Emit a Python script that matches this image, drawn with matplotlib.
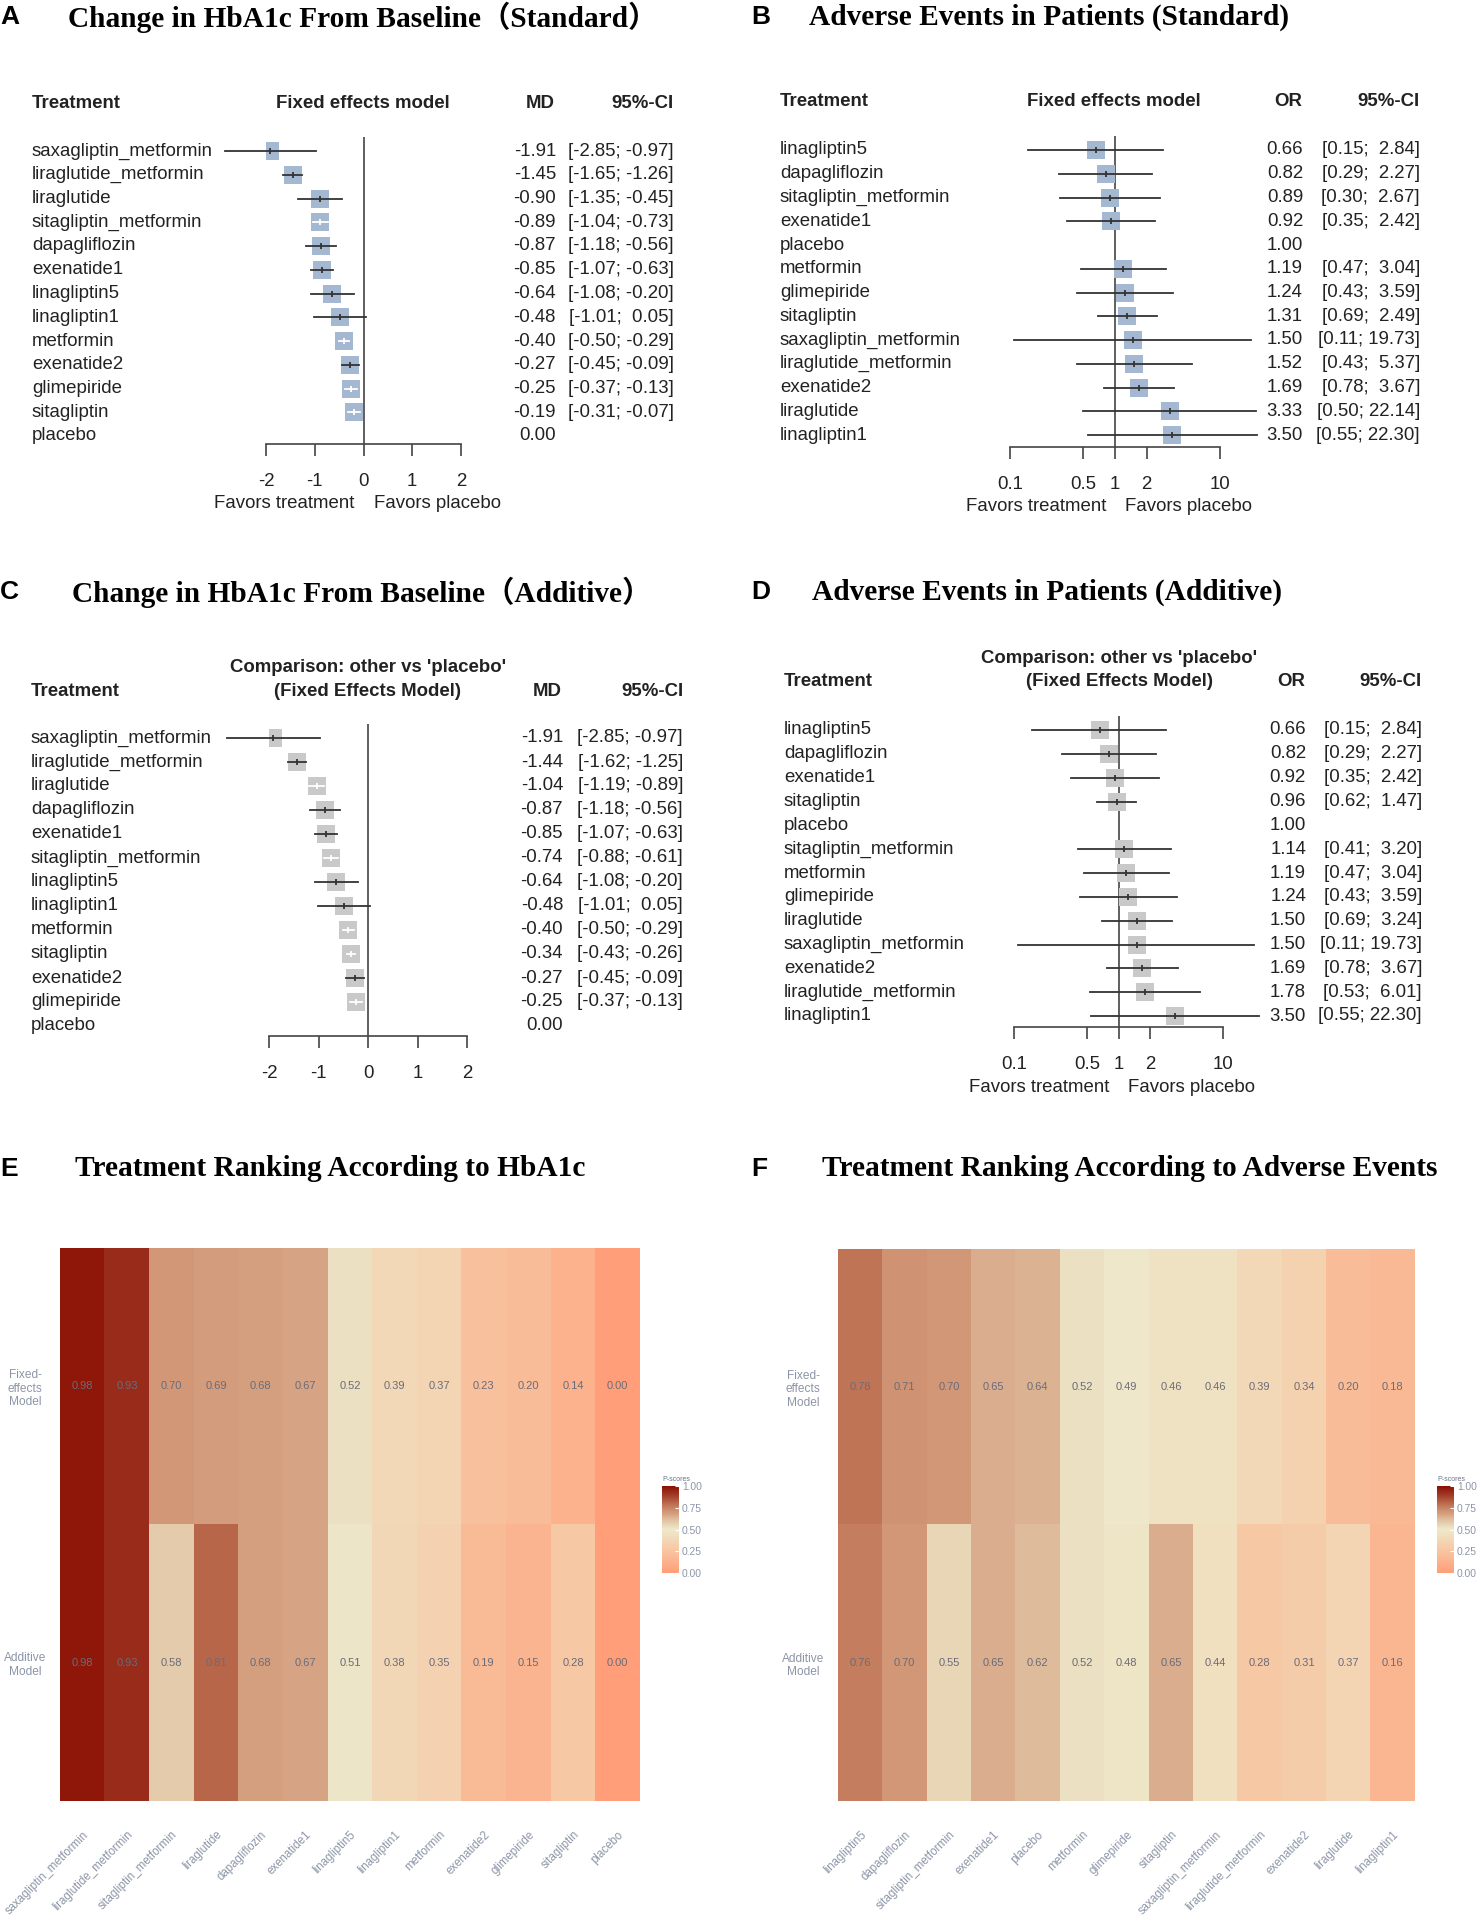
# plot.py
"""
Figura con seis paneles: cuatro forest plots (HbA1c y eventos adversos,
modelo estandar y aditivo) y dos mapas de calor con los P-scores.
"""
import numpy as np
import matplotlib
matplotlib.use('Agg')
import matplotlib.pyplot as plt
from matplotlib.colors import LinearSegmentedColormap

plt.rcParams['font.family'] = ['Liberation Sans', 'DejaVu Sans']

# Tamaño de la figura en pixeles
W, H = 1477, 1923
nan = np.nan

# Panel A: cambio en HbA1c (estandar)
a_trat = ['saxagliptin_metformin', 'liraglutide_metformin', 'liraglutide',
          'sitagliptin_metformin', 'dapagliflozin', 'exenatide1', 'linagliptin5',
          'linagliptin1', 'metformin', 'exenatide2', 'glimepiride', 'sitagliptin',
          'placebo']
a_md = [-1.91, -1.45, -0.90, -0.89, -0.87, -0.85, -0.64, -0.48, -0.40, -0.27, -0.25, -0.19, 0.00]
a_lo = [-2.85, -1.65, -1.35, -1.04, -1.18, -1.07, -1.08, -1.01, -0.50, -0.45, -0.37, -0.31, nan]
a_hi = [-0.97, -1.26, -0.45, -0.73, -0.56, -0.63, -0.20, 0.05, -0.29, -0.09, -0.13, -0.07, nan]

# Panel B: eventos adversos (estandar)
b_trat = ['linagliptin5', 'dapagliflozin', 'sitagliptin_metformin', 'exenatide1',
          'placebo', 'metformin', 'glimepiride', 'sitagliptin', 'saxagliptin_metformin',
          'liraglutide_metformin', 'exenatide2', 'liraglutide', 'linagliptin1']
b_or = [0.66, 0.82, 0.89, 0.92, 1.00, 1.19, 1.24, 1.31, 1.50, 1.52, 1.69, 3.33, 3.50]
b_lo = [0.15, 0.29, 0.30, 0.35, nan, 0.47, 0.43, 0.69, 0.11, 0.43, 0.78, 0.50, 0.55]
b_hi = [2.84, 2.27, 2.67, 2.42, nan, 3.04, 3.59, 2.49, 19.73, 5.37, 3.67, 22.14, 22.30]

# Panel C: cambio en HbA1c (aditivo)
c_trat = ['saxagliptin_metformin', 'liraglutide_metformin', 'liraglutide',
          'dapagliflozin', 'exenatide1', 'sitagliptin_metformin', 'linagliptin5',
          'linagliptin1', 'metformin', 'sitagliptin', 'exenatide2', 'glimepiride',
          'placebo']
c_md = [-1.91, -1.44, -1.04, -0.87, -0.85, -0.74, -0.64, -0.48, -0.40, -0.34, -0.27, -0.25, 0.00]
c_lo = [-2.85, -1.62, -1.19, -1.18, -1.07, -0.88, -1.08, -1.01, -0.50, -0.43, -0.45, -0.37, nan]
c_hi = [-0.97, -1.25, -0.89, -0.56, -0.63, -0.61, -0.20, 0.05, -0.29, -0.26, -0.09, -0.13, nan]

# Panel D: eventos adversos (aditivo)
d_trat = ['linagliptin5', 'dapagliflozin', 'exenatide1', 'sitagliptin', 'placebo',
          'sitagliptin_metformin', 'metformin', 'glimepiride', 'liraglutide',
          'saxagliptin_metformin', 'exenatide2', 'liraglutide_metformin', 'linagliptin1']
d_or = [0.66, 0.82, 0.92, 0.96, 1.00, 1.14, 1.19, 1.24, 1.50, 1.50, 1.69, 1.78, 3.50]
d_lo = [0.15, 0.29, 0.35, 0.62, nan, 0.41, 0.47, 0.43, 0.69, 0.11, 0.78, 0.53, 0.55]
d_hi = [2.84, 2.27, 2.42, 1.47, nan, 3.20, 3.04, 3.59, 3.24, 19.73, 3.67, 6.01, 22.30]

# Panel E: ranking segun HbA1c (P-scores)
e_trat = ['saxagliptin_metformin', 'liraglutide_metformin', 'sitagliptin_metformin',
          'liraglutide', 'dapagliflozin', 'exenatide1', 'linagliptin5', 'linagliptin1',
          'metformin', 'exenatide2', 'glimepiride', 'sitagliptin', 'placebo']
e_fijo = [0.98, 0.93, 0.70, 0.69, 0.68, 0.67, 0.52, 0.39, 0.37, 0.23, 0.20, 0.14, 0.00]
e_aditivo = [0.98, 0.93, 0.58, 0.81, 0.68, 0.67, 0.51, 0.38, 0.35, 0.19, 0.15, 0.28, 0.00]

# Panel F: ranking segun eventos adversos (P-scores)
f_trat = ['linagliptin5', 'dapagliflozin', 'sitagliptin_metformin', 'exenatide1',
          'placebo', 'metformin', 'glimepiride', 'sitagliptin', 'saxagliptin_metformin',
          'liraglutide_metformin', 'exenatide2', 'liraglutide', 'linagliptin1']
f_fijo = [0.78, 0.71, 0.70, 0.65, 0.64, 0.52, 0.49, 0.46, 0.46, 0.39, 0.34, 0.20, 0.18]
f_aditivo = [0.76, 0.70, 0.55, 0.65, 0.62, 0.52, 0.48, 0.65, 0.44, 0.28, 0.31, 0.37, 0.16]

fila_labels = ['Fixed-\neffects\nModel', 'Additive\nModel']

TXT = '#222222'
GRIS = '#8C95A7'
TAM = 13.4

fig = plt.figure(figsize=(W / 100, H / 100), dpi=100)


def caja(l, t, r, b):
    """Rectangulo en pixeles (izq, arriba, der, abajo) -> coordenadas de figura."""
    return [l / W, 1 - b / H, (r - l) / W, (b - t) / H]


def texto(x, y, s, **kw):
    """Texto en coordenadas de pixel de la figura."""
    kw.setdefault('color', TXT)
    kw.setdefault('va', 'center')
    fig.text(x / W, 1 - y / H, s, **kw)


def titulo(letra, lx, tx_, y, s):
    texto(lx, y, letra, fontsize=19, fontweight='bold', color='black')
    texto(tx_, y, s, fontsize=21.2, fontweight='bold', color='black',
          family=['Liberation Serif', 'Noto Sans CJK SC', 'DejaVu Serif'])


def forest(trat, est, lo, hi, lay, log=False, color='#A4B8D1', medida='MD'):
    """Dibuja un forest plot al estilo de netmeta."""
    ref_top = lay['row0'] - 14
    ax = fig.add_axes(caja(lay['x0'], ref_top, lay['x1'], lay['axis_y']))
    r0 = lay['row0']
    dy = (lay['rowN'] - r0) / (len(trat) - 1)
    ax.set_ylim((lay['axis_y'] - r0) / dy, (ref_top - r0) / dy)
    if log:
        ax.set_xscale('log')
        ax.set_xlim(0.1, 10)
        ticks, ref, escala = [0.1, 0.5, 1, 2, 10], 1, (lay['x1'] - lay['x0']) / 2
    else:
        ax.set_xlim(-2, 2)
        ticks, ref, escala = [-2, -1, 0, 1, 2], 0, (lay['x1'] - lay['x0']) / 4
    ax.set_xticks(ticks)
    ax.set_xticklabels([('%g' % t) for t in ticks])
    ax.minorticks_off()
    ax.set_yticks([])
    ax.axvline(ref, color='#444444', lw=1.2, zorder=1)
    for lado in ['top', 'right', 'left']:
        ax.spines[lado].set_visible(False)
    ax.spines['bottom'].set_color('#444444')
    ax.spines['bottom'].set_linewidth(1.2)
    ax.tick_params(axis='x', direction='out', length=8.5, width=1.2, color='#444444',
                   pad=12.5, labelsize=TAM, labelcolor=TXT)
    ax.patch.set_alpha(0)

    # Cabeceras
    texto(lay['lab_x'], lay['hdr_y'], 'Treatment', fontsize=TAM, fontweight='bold')
    if lay.get('hdr1_y'):
        texto(lay['hdr_cx'], lay['hdr1_y'], "Comparison: other vs 'placebo'",
              fontsize=TAM, fontweight='bold', ha='center')
        texto(lay['hdr_cx'], lay['hdr_y'], '(Fixed Effects Model)',
              fontsize=TAM, fontweight='bold', ha='center')
    else:
        texto(lay['hdr_cx'], lay['hdr_y'], 'Fixed effects model',
              fontsize=TAM, fontweight='bold', ha='center')
    texto(lay['val_cx'], lay['hdr_y'], medida, fontsize=TAM, fontweight='bold', ha='center')
    texto(lay['ci_r'], lay['hdr_y'], '95%-CI', fontsize=TAM, fontweight='bold', ha='right')

    for i, nombre in enumerate(trat):
        y = r0 + i * dy
        texto(lay['lab_x'], y, nombre, fontsize=TAM)
        texto(lay['val_r'], y, '%.2f' % est[i], fontsize=TAM, ha='right')
        if np.isnan(lo[i]):
            continue
        if log:
            ancho = (np.log10(hi[i]) - np.log10(lo[i])) * escala
        else:
            ancho = (hi[i] - lo[i]) * escala
        lc = 'white' if ancho < 17 else '#333333'
        ax.plot([est[i]], [i], marker='s', ms=12.5, color=color, mew=0, zorder=2)
        ax.plot([lo[i], hi[i]], [i, i], color=lc, lw=1.3, clip_on=False, zorder=3)
        ax.plot([est[i]], [i], marker='|', ms=5, mew=1.3, color=lc, zorder=4)
        ci = '[%s; %5s]' % ('%.2f' % lo[i], '%.2f' % hi[i])
        texto(lay['ci_r'], y, ci, fontsize=TAM, ha='right')

    if lay.get('fav_y'):
        cx = lay['x0'] + (lay['x1'] - lay['x0']) / 2
        texto(cx - 9, lay['fav_y'], 'Favors treatment', fontsize=TAM, ha='right')
        texto(cx + 10, lay['fav_y'], 'Favors placebo', fontsize=TAM, ha='left')


# Escala de color de los P-scores
cmap = LinearSegmentedColormap.from_list('pscore', [
    (0.0, '#FF9E78'), (0.25, '#F8C4A0'), (0.5, '#EEE9CB'), (0.6, '#E2C4A4'),
    (0.7, '#D29878'), (0.8, '#BC6C4E'), (0.9, '#A03A26'), (1.0, '#8A0F02')])


def ranking(trat, fijo, aditivo, lay):
    """Mapa de calor con los P-scores de cada tratamiento."""
    ax = fig.add_axes(caja(lay['l'], lay['t'], lay['r'], lay['b']))
    datos = np.array([fijo, aditivo])
    im = ax.imshow(datos, cmap=cmap, vmin=0, vmax=1, aspect='auto', interpolation='nearest')
    for fila, vals in enumerate([fijo, aditivo]):
        for j, v in enumerate(vals):
            ax.text(j, fila, '%.2f' % v, ha='center', va='center', fontsize=8,
                    color='#6B6B78')
    ax.set_xticks(range(len(trat)))
    ax.set_xticklabels(trat, rotation=45, ha='right', rotation_mode='anchor',
                       fontsize=8.3, color=GRIS)
    ax.set_yticks([0, 1])
    ax.set_yticklabels(fila_labels, fontsize=8.6, color=GRIS, ha='center',
                       multialignment='center')
    ax.tick_params(axis='x', length=0, pad=20)
    ax.tick_params(axis='y', length=0, pad=25)
    for s in ax.spines.values():
        s.set_visible(False)

    # Barra de color
    cax = fig.add_axes(caja(lay['cb_l'], 1486, lay['cb_l'] + 17, 1573))
    cb = fig.colorbar(im, cax=cax)
    cb.outline.set_visible(False)
    cb.set_ticks([0, 0.25, 0.5, 0.75, 1])
    cb.set_ticklabels(['0.00', '0.25', '0.50', '0.75', '1.00'])
    cb.ax.tick_params(labelsize=7.4, labelcolor=GRIS, length=3, color='white',
                      direction='in', pad=2)
    cax.text(0, 1.03, 'P-scores', transform=cax.transAxes, fontsize=5,
             color='#6B7385', ha='left', va='bottom')


# Paneles A-D
titulo('A', 0, 68, 17, 'Change in HbA1c From Baseline（Standard）')
forest(a_trat, a_md, a_lo, a_hi,
       dict(x0=266, x1=461, axis_y=444, row0=151, rowN=436, lab_x=32,
            hdr_y=104, hdr_cx=363, val_cx=540, val_r=556, ci_r=674, fav_y=504))

titulo('B', 751, 809, 17, 'Adverse Events in Patients (Standard)')
forest(b_trat, b_or, b_lo, b_hi,
       dict(x0=1010, x1=1220, axis_y=447, row0=150, rowN=435, lab_x=780,
            hdr_y=102, hdr_cx=1114, val_cx=1288, val_r=1303, ci_r=1420, fav_y=507),
       log=True, medida='OR')

titulo('C', 0, 72, 592, 'Change in HbA1c From Baseline（Additive）')
forest(c_trat, c_md, c_lo, c_hi,
       dict(x0=269, x1=467, axis_y=1036, row0=738, rowN=1026, lab_x=31,
            hdr_y=691, hdr1_y=667, hdr_cx=368, val_cx=547, val_r=563, ci_r=683),
       color='#C9C9C9')

titulo('D', 751, 812, 592, 'Adverse Events in Patients (Additive)')
forest(d_trat, d_or, d_lo, d_hi,
       dict(x0=1014, x1=1223, axis_y=1027, row0=730, rowN=1016, lab_x=784,
            hdr_y=682, hdr1_y=659, hdr_cx=1119, val_cx=1291, val_r=1306, ci_r=1422,
            fav_y=1087),
       log=True, color='#C9C9C9', medida='OR')

# Paneles E-F
titulo('E', 0, 75, 1169, 'Treatment Ranking According to HbA1c')
ranking(e_trat, e_fijo, e_aditivo, dict(l=60, t=1248, r=640, b=1801, cb_l=662))

titulo('F', 751, 822, 1169, 'Treatment Ranking According to Adverse Events')
ranking(f_trat, f_fijo, f_aditivo, dict(l=838, t=1249, r=1415, b=1801, cb_l=1437))

fig.savefig('out.png', dpi=100, facecolor='white')
